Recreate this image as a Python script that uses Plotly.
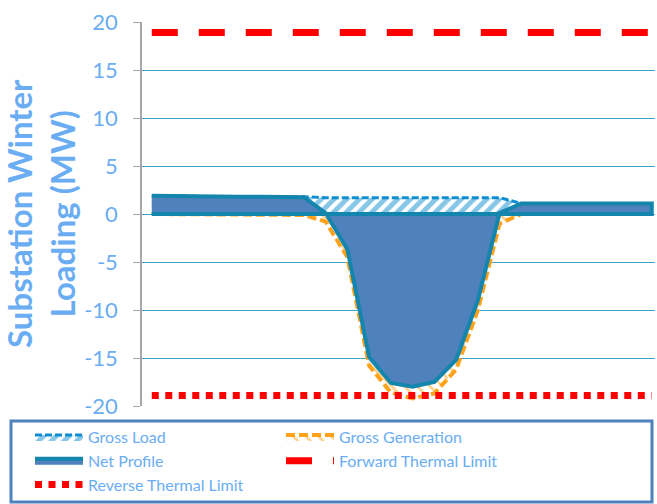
import plotly.graph_objects as go

hours = list(range(24))
gross_load = [1.85, 1.85, 1.8, 1.8, 1.8, 1.8, 1.8, 1.8, 1.7, 1.7, 1.7, 1.7,
              1.7, 1.7, 1.7, 1.7, 1.7, 1.1, 1.1, 1.1, 1.1, 1.1, 1.1, 1.1]
gross_gen = [0, 0, 0, 0, 0, 0, 0, -0.1, -0.8, -4.5, -15.8, -18.6,
             -19.2, -18.7, -16.2, -10.0, -1.0, 0, 0, 0, 0, 0, 0, 0]
net_profile = [1.9, 1.85, 1.8, 1.8, 1.8, 1.8, 1.8, 1.75, 0.1, -3.7, -14.9, -17.6,
               -18.0, -17.5, -15.2, -9.0, 0.1, 1.1, 1.1, 1.1, 1.1, 1.1, 1.1, 1.1]
forward_limit = [18.9] * 24
reverse_limit = [-18.9] * 24
y_ticks = [-20, -15, -10, -5, 0, 5, 10, 15, 20]

TXT = "#6AADF2"
FONT = "Lato, sans-serif"

def closed(xs, ys):
    return xs + xs[::-1], ys + [0] * len(ys)

fig = go.Figure()
cx, cy = closed(hours, gross_load)
fig.add_trace(go.Scatter(x=cx, y=cy, name="Gross Load", mode="lines", fill="toself",
                         fillcolor="white",
                         fillpattern=dict(shape="/", fgcolor="#0E8ED0", bgcolor="white", size=9, solidity=0.55),
                         line=dict(color="#0E8ED0", width=3, dash="7px,3px")))
cx, cy = closed(hours, gross_gen)
fig.add_trace(go.Scatter(x=cx, y=cy, name="Gross Generation", mode="lines", fill="toself",
                         fillcolor="white",
                         fillpattern=dict(shape="\\", fgcolor="#FFA21A", bgcolor="white", size=9, solidity=0.3),
                         line=dict(color="#FFA21A", width=4, dash="9px,4px")))
cx, cy = closed(hours, net_profile)
fig.add_trace(go.Scatter(x=cx, y=cy, name="Net Profile", mode="lines", fill="toself",
                         fillcolor="#4F81BD",
                         line=dict(color="#1485AC", width=4)))
fig.add_trace(go.Scatter(x=hours, y=forward_limit, name="Forward Thermal Limit", mode="lines",
                         line=dict(color="#FF0000", width=7, dash="26px,21px")))
fig.add_trace(go.Scatter(x=hours, y=reverse_limit, name="Reverse Thermal Limit", mode="lines",
                         line=dict(color="#FF0000", width=7, dash="7px,6.5px")))

W, H = 657, 504
ml, mr, mt, mb = 142, 2, 22, 98
pw, ph = W - ml - mr, H - mt - mb

def px(x):
    return (x - ml) / pw

def py(y):
    return (H - mb - y) / ph

fig.update_layout(
    width=W, height=H,
    margin=dict(l=ml, r=mr, t=mt, b=mb, autoexpand=False),
    paper_bgcolor="white", plot_bgcolor="white",
    font=dict(family=FONT, color=TXT),
    showlegend=True,
    legend=dict(orientation="h", x=px(30), y=py(420), xanchor="left", yanchor="top",
                xref="paper", yref="paper",
                font=dict(size=16, color=TXT, family=FONT),
                itemwidth=48, entrywidth=188, entrywidthmode="pixels",
                bgcolor="rgba(0,0,0,0)", borderwidth=0, tracegroupgap=0,
                traceorder="normal"),
    xaxis=dict(range=[-0.45, 23.15], showgrid=False, showticklabels=False, zeroline=False,
               showline=False, ticks=""),
    yaxis=dict(range=[-20, 20], tickvals=y_ticks, ticktext=[f"{v}\u2002" for v in y_ticks],
               showgrid=True, gridcolor="#3FA3C8", gridwidth=1, zeroline=False,
               showline=True, linecolor="#A6A6A6", linewidth=1.5,
               ticks="outside", ticklen=7, tickcolor="#A6A6A6",
               tickfont=dict(size=22, color=TXT, family=FONT)),
    shapes=[dict(type="rect", xref="paper", yref="paper",
                 x0=px(11), x1=px(652), y0=py(502), y1=py(421),
                 line=dict(color="#4F81BD", width=3), fillcolor="rgba(0,0,0,0)")],
    annotations=[dict(text="<b>Substation Winter<br>Loading (MW)</b>", xref="paper", yref="paper",
                      x=px(40), y=0.5, xanchor="center", yanchor="middle", textangle=-90,
                      showarrow=False, font=dict(size=33, color=TXT, family=FONT))],
)

fig.write_html("out.html", config={"displayModeBar": False},
               post_script="document.body.style.margin='0px';")
